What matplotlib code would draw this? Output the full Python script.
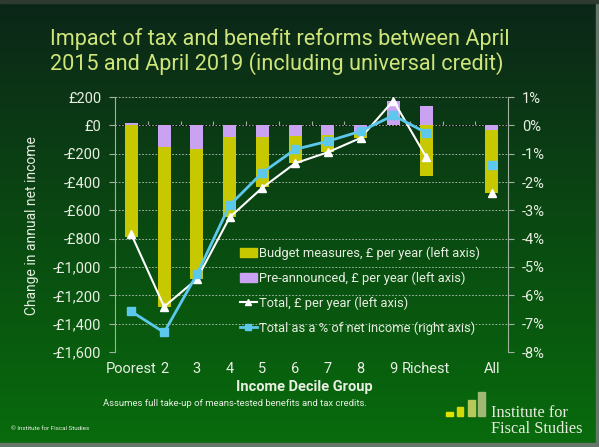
import matplotlib.pyplot as plt
import numpy as np
from matplotlib.patches import Rectangle
from matplotlib.lines import Line2D

plt.rcParams['font.family'] = ['Roboto', 'DejaVu Sans']

# --- dane ---
groups = ['Poorest', '2', '3', '4', '5', '6', '7', '8', '9', 'Richest', '', 'All']
budget = [-790, -1125, -915, -565, -355, -190, -125, -42, 3, -357, np.nan, -446]
pre_announced = [20, -155, -170, -82, -82, -75, -66, -47, 172, 134, np.nan, -35]
total = [-770, -1280, -1085, -650, -440, -268, -190, -89, 175, -223, np.nan, -481]
total_pct = [-6.57, -7.31, -5.26, -2.82, -1.67, -0.85, -0.56, -0.21, 0.35, -0.26, np.nan, -1.41]

left_ticks = list(range(-1600, 201, 200))
right_ticks = list(range(-8, 2))

W, H = 599, 447
TXT = '#e8eee2'
AXC = '#9fb29f'


def fx(x):
    return x / W


def fy(y):
    return 1 - y / H


fig = plt.figure(figsize=(W / 100, H / 100), dpi=100)

# tło - gradient pionowy
bg = fig.add_axes([0, 0, 1, 1], zorder=-10)
top = np.array([12, 38, 24]) / 255
bot = np.array([8, 108, 12]) / 255
t = np.linspace(0, 1, 256)[:, None]
grad = top[None, :] * (1 - t) + bot[None, :] * t
bg.imshow(grad[:, None, :], aspect='auto', extent=[0, 1, 0, 1])
bg.set_axis_off()

ax = fig.add_axes([fx(115), fy(352), fx(508) - fx(115), fy(97) - fy(352)])
ax.set_facecolor('none')
ax.set_xlim(-0.5, 11.5)
ax.set_ylim(-1600, 200)
ax.set_axisbelow(True)

x = np.arange(len(groups))
pre = np.array(pre_announced, dtype=float)
bud = np.array(budget, dtype=float)
bud_bottom = np.where(np.sign(bud) == np.sign(pre), pre, 0)

ax.bar(x, pre, 0.4, color='#c9a2f2', zorder=2)
ax.bar(x, bud, 0.4, bottom=bud_bottom, color='#c8c800', zorder=2)
ax.plot(x, total, color='white', marker='^', ms=6, lw=1.5, zorder=4)

# siatka
ax.set_yticks(left_ticks, [('-' if v < 0 else '') + '£{:,}'.format(abs(v)) for v in left_ticks])
ax.yaxis.grid(True, ls=(0, (2, 2)), color='#b8c8b8', lw=0.6)
for s in ['top', 'bottom']:
    ax.spines[s].set_visible(False)
ax.spines['left'].set_color(AXC)
ax.spines['right'].set_visible(False)
ax.tick_params(axis='y', colors=AXC, labelcolor=TXT, labelsize=10.5, length=4, pad=6)
ax.set_xticks(x, groups)
ax.tick_params(axis='x', length=0, labelcolor=TXT, labelsize=10.5, pad=7)

# oś pozioma w zerze
zero_frac = (0 - (-1600)) / 1800
sec = ax.secondary_xaxis(zero_frac)
sec.set_xticks(np.arange(-0.5, 12, 1), [''] * 13)
sec.tick_params(axis='x', direction='out', length=3, colors=AXC)
sec.spines['bottom'].set_color('#b8c8b8')
sec.spines['bottom'].set_linewidth(1.0)

ax2 = ax.twinx()
ax2.set_ylim(-8, 1)
ax2.set_yticks(right_ticks, ['{}%'.format(v) for v in right_ticks])
ax2.plot(x, total_pct, color='#5cc8ec', marker='s', ms=6, lw=2, zorder=5)
for s in ['top', 'bottom', 'left']:
    ax2.spines[s].set_visible(False)
ax2.spines['right'].set_color(AXC)
ax2.tick_params(axis='y', colors=AXC, labelcolor=TXT, labelsize=10.5, length=4, pad=6)

handles = [
    Rectangle((0, 0), 1, 1, color='#c8c800'),
    Rectangle((0, 0), 1, 1, color='#c9a2f2'),
    Line2D([], [], color='white', marker='^', ms=5, lw=1.5),
    Line2D([], [], color='#5cc8ec', marker='s', ms=5, lw=2),
]
labels = ['Budget measures, £ per year (left axis)',
          'Pre-announced, £ per year (left axis)',
          'Total, £ per year (left axis)',
          'Total as a % of net income (right axis)']
ax2.legend(handles, labels, loc='upper left', bbox_to_anchor=(0.318, 0.415),
           frameon=False, fontsize=9.3, labelcolor=TXT, handlelength=1.3,
           handletextpad=0.15, labelspacing=0.9, borderpad=0, borderaxespad=0)

# teksty
TITLE = '#cfe57a'
fig.text(fx(50), fy(45), 'Impact of tax and benefit reforms between April',
         color=TITLE, fontsize=15.6, va='baseline')
fig.text(fx(50), fy(70), '2015 and April 2019 (including universal credit)',
         color=TITLE, fontsize=15.6, va='baseline')
fig.text(fx(32), fy(226), 'Change in annual net income', rotation=90,
         ha='center', va='center', color=TXT, fontsize=10)
fig.text(fx(304), fy(387), 'Income Decile Group', ha='center', va='center',
         color=TXT, fontsize=10.5, fontweight='bold')
fig.text(fx(235), fy(404), 'Assumes full take-up of means-tested benefits and tax credits.',
         ha='center', va='center', color=TXT, fontsize=6.8)
fig.text(fx(11), fy(428), '© Institute for Fiscal Studies', ha='left', va='center',
         color=TXT, fontsize=4.5)

# logo IFS
logo = [(446, 412, '#e2e200'), (457, 407, '#d2d80a'), (468, 400, '#b6c85a'), (478, 392, '#9fb874')]
for lx, ly, lc in logo:
    fig.add_artist(Rectangle((fx(lx), fy(416)), fx(6.5), fy(ly) - fy(416),
                             transform=fig.transFigure, color=lc))
fig.text(fx(491), fy(417), 'Institute for', family='Liberation Serif', fontsize=11.8,
         color='#e8ece0', va='baseline')
fig.text(fx(491), fy(433), 'Fiscal Studies', family='Liberation Serif', fontsize=11.8,
         color='#e8ece0', va='baseline')

# ramka
fig.add_artist(Rectangle((fx(596), 0), fx(3), 1, transform=fig.transFigure, color='#66766a'))
fig.add_artist(Rectangle((0, 0), 1, fy(443), transform=fig.transFigure, color='#66766a'))
fig.add_artist(Rectangle((0, fy(3)), 1, 1 - fy(3), transform=fig.transFigure, color='#2c3a30'))

fig.savefig('out.png', dpi=100)
